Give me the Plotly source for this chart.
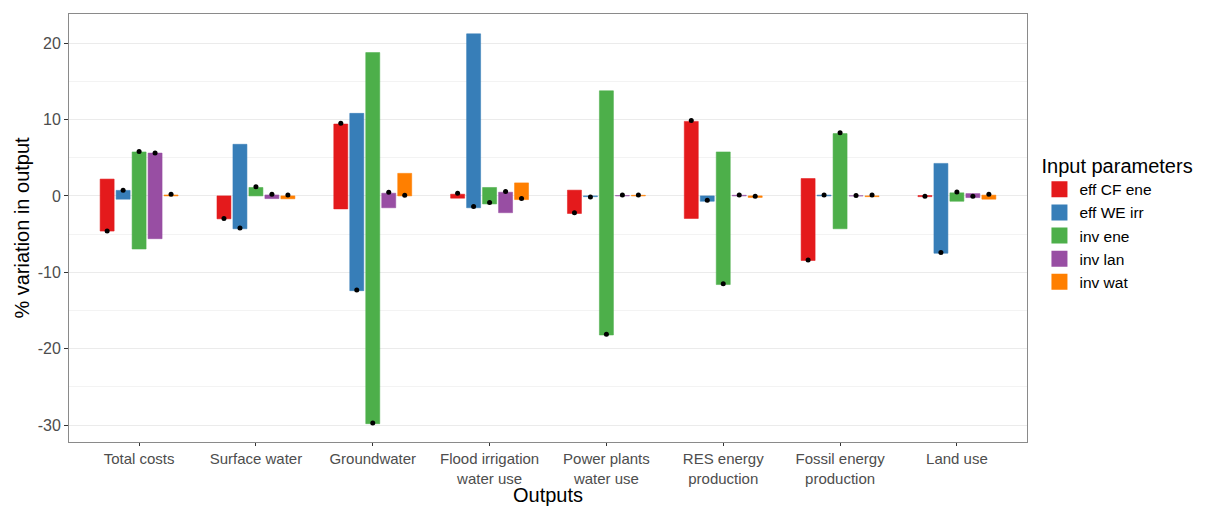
import plotly.graph_objects as go

outputs = ["Total costs", "Surface water", "Groundwater", "Flood irrigation<br>water use",
           "Power plants<br>water use", "RES energy<br>production", "Fossil energy<br>production", "Land use"]
params = ["eff CF ene", "eff WE irr", "inv ene", "inv lan", "inv wat"]
colors = ["#E41A1C", "#377EB8", "#4DAF4A", "#984EA3", "#FF7F00"]
edge_colors = ["rgba(228,26,28,0.55)", "rgba(55,126,184,0.55)", "rgba(77,175,74,0.55)",
               "rgba(152,78,163,0.55)", "rgba(255,127,0,0.55)"]
y_tickvals = [-30, -20, -10, 0, 10, 20]
y_ticktext = ["-30", "-20", "-10", "0", "10", "20"]

# low / high of variation range per parameter, per output
low_eff_cf = [-4.6, -3.0, -1.7, -0.3, -2.3, -2.95, -8.45, -0.1]
high_eff_cf = [2.2, 0.0, 9.4, 0.22, 0.75, 9.75, 2.27, 0.05]
low_eff_we = [-0.43, -4.3, -12.4, -1.55, -0.1, -0.7, 0.0, -7.5]
high_eff_we = [0.72, 6.75, 10.8, 21.2, 0.0, 0.0, 0.1, 4.25]
low_inv_ene = [-6.95, 0.0, -29.8, -1.05, -18.2, -11.6, -4.3, -0.7]
high_inv_ene = [5.75, 1.1, 18.75, 1.1, 13.75, 5.75, 8.15, 0.4]
low_inv_lan = [-5.6, -0.35, -1.55, -2.2, 0.0, 0.0, 0.0, -0.22]
high_inv_lan = [5.6, 0.12, 0.35, 0.48, 0.05, 0.08, 0.02, 0.3]
low_inv_wat = [0.0, -0.38, 0.0, -0.48, 0.0, -0.2, -0.1, -0.43]
high_inv_wat = [0.12, 0.0, 2.95, 1.7, 0.08, 0.0, 0.0, 0.1]

# point value (black dot) per parameter, per output
dot_eff_cf = [-4.6, -2.95, 9.5, 0.35, -2.2, 9.85, -8.4, -0.04]
dot_eff_we = [0.75, -4.2, -12.3, -1.4, -0.13, -0.57, 0.13, -7.4]
dot_inv_ene = [5.8, 1.2, -29.7, -0.87, -18.1, -11.5, 8.25, 0.52]
dot_inv_lan = [5.6, 0.2, 0.48, 0.57, 0.13, 0.13, 0.05, -0.04]
dot_inv_wat = [0.2, 0.13, 0.1, -0.35, 0.13, -0.05, 0.13, 0.22]

lows = [low_eff_cf, low_eff_we, low_inv_ene, low_inv_lan, low_inv_wat]
highs = [high_eff_cf, high_eff_we, high_inv_ene, high_inv_lan, high_inv_wat]
dots = [dot_eff_cf, dot_eff_we, dot_inv_ene, dot_inv_lan, dot_inv_wat]

fig = go.Figure()
for p, c, ec, lo, hi in zip(params, colors, edge_colors, lows, highs):
    fig.add_trace(go.Bar(
        x=outputs, y=[h - l for l, h in zip(lo, hi)], base=lo, name=p,
        offsetgroup=p, showlegend=False,
        marker=dict(color=c, line=dict(color=ec, width=1)),
    ))
for p, d in zip(params, dots):
    fig.add_trace(go.Scatter(
        x=outputs, y=d, mode="markers", offsetgroup=p, showlegend=False,
        marker=dict(color="black", size=5),
    ))
# legend entries (square keys)
for p, c in zip(params, colors):
    fig.add_trace(go.Scatter(
        x=[None], y=[None], mode="markers", name=p,
        marker=dict(color=c, symbol="square", size=20, line=dict(width=0)),
    ))

fnt = "Liberation Sans, Arial, sans-serif"
fig.update_layout(
    width=1203, height=498,
    margin=dict(l=61, r=184, t=6, b=64),
    paper_bgcolor="white", plot_bgcolor="white",
    barmode="group", bargap=0.316, bargroupgap=0.125,
    scattermode="group", scattergap=0.316,
    font=dict(family=fnt, color="black"),
    legend=dict(
        title=dict(text="Input parameters", font=dict(size=20, color="black")),
        font=dict(size=15.5, color="black"),
        x=1.013, y=0.69, xanchor="left", yanchor="top",
        itemsizing="trace", tracegroupgap=0, itemwidth=30,
    ),
    showlegend=True,
)
fig.update_xaxes(
    range=[-0.6, 7.6], showgrid=False, automargin=False,
    tickfont=dict(family=fnt, size=15, color="#4d4d4d"),
    ticks="outside", ticklen=3, tickcolor="#333333",
    showline=True, linecolor="#8a8a8a", linewidth=1, mirror=True,
    title=dict(text="Outputs", font=dict(size=20, color="black"), standoff=2),
)
fig.update_yaxes(
    range=[-32.2, 23.8], tickvals=y_tickvals, ticktext=y_ticktext,
    tickfont=dict(family=fnt, size=16, color="#4d4d4d"),
    automargin=False,
    ticks="outside", ticklen=4, tickcolor="#333333",
    showgrid=True, gridcolor="#ebebeb", gridwidth=1.2, zeroline=False,
    minor=dict(dtick=5, tick0=0, showgrid=True, gridcolor="#f3f3f3", gridwidth=0.8),
    showline=True, linecolor="#8a8a8a", linewidth=1, mirror=True,
    title=dict(text="% variation in output", font=dict(size=20, color="black"), standoff=2),
)

fig.write_html("out.html")
